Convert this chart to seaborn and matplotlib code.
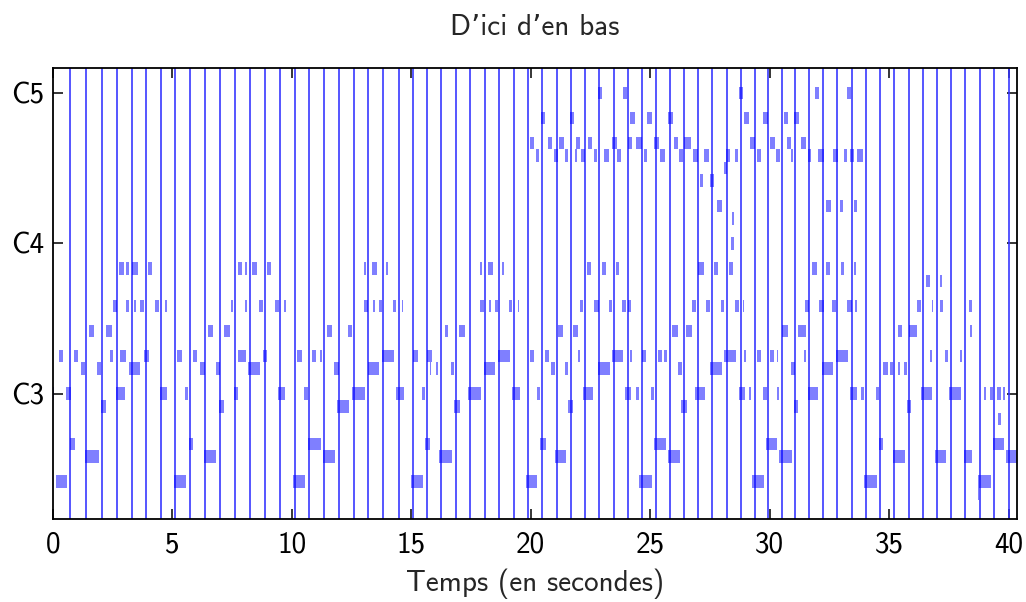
import matplotlib
matplotlib.use("Agg")
import matplotlib.pyplot as plt
import seaborn as sns
import numpy as np

# ---- data -----------------------------------------------------------------
title = "D\u2019ici d\u2019en bas"
xlabel = "Temps (en secondes)"
ytick_pitches = [48, 60, 72]
ytick_labels = ["C3", "C4", "C5"]
xticks = [0, 5, 10, 15, 20, 25, 30, 35, 40]

beat_times = [0.732, 1.401, 2.041, 2.685, 3.325, 3.911, 4.509, 5.123, 5.738, 6.366,
              6.993, 7.633, 8.248, 8.858, 9.486, 10.109, 10.728, 11.355, 11.970,
              12.597, 13.195, 13.823, 14.479, 15.048, 15.663, 16.249, 16.863,
              17.474, 18.089, 18.687, 19.289, 19.887, 20.473, 21.087, 21.673,
              22.271, 22.856, 23.471, 24.069, 24.655, 25.228, 25.813, 26.411,
              26.997, 27.583, 28.198, 28.796, 29.381, 29.946, 30.510, 31.067,
              31.639, 32.238, 32.823, 33.425, 34.023, 34.621, 35.207, 35.822,
              36.407, 36.993, 37.591, 38.177, 38.791, 39.406, 40.017]

# notes per MIDI pitch: (start, end) in seconds
notes_40 = [(38.708, 38.750)]
notes_41 = [(0.105, 0.606), (5.081, 5.583), (10.059, 10.561), (14.994, 15.496),
            (19.804, 20.263), (24.529, 25.073), (29.256, 29.758), (33.940, 34.484),
            (38.708, 39.251)]
notes_43 = [(1.359, 1.945), (6.336, 6.838), (11.313, 11.815), (16.165, 16.709),
            (21.016, 21.477), (25.743, 26.244), (30.385, 30.929), (35.153, 35.655),
            (36.909, 37.369), (38.122, 38.457), (39.879, 40.40)]
notes_44 = [(0.732, 0.941), (5.709, 5.876), (10.686, 11.230), (15.579, 15.789),
            (20.389, 20.640), (25.157, 25.659), (29.841, 30.301), (34.567, 34.734),
            (39.335, 39.795)]
notes_46 = [(39.544, 39.670)]
notes_47 = [(2.028, 2.238), (6.963, 7.173), (11.899, 12.401), (16.792, 17.043),
            (21.560, 21.769), (26.286, 26.537), (31.012, 31.180), (35.738, 35.905)]
notes_48 = [(0.0, 0.06), (0.565, 0.760), (2.656, 3.032), (4.496, 4.789), (5.542, 5.667),
            (7.591, 7.758), (9.431, 9.724), (10.519, 10.686), (12.526, 13.070),
            (14.366, 14.701), (15.454, 15.579), (17.378, 17.921), (19.218, 19.553),
            (20.263, 20.389), (22.187, 22.606), (23.944, 24.195), (24.404, 24.529),
            (25.031, 25.157), (26.872, 27.290), (28.712, 28.963), (29.130, 29.214),
            (29.716, 29.883), (30.301, 30.385), (31.598, 32.016), (33.354, 33.647),
            (33.814, 33.940), (34.442, 34.567), (36.324, 36.784), (37.495, 37.997),
            (38.959, 39.042), (39.210, 39.335), (39.502, 39.670), (39.753, 39.837)]
notes_50 = [(1.192, 1.359), (1.861, 2.028), (3.200, 3.660), (6.169, 6.364),
            (6.838, 7.005), (8.176, 8.678), (11.773, 11.982), (13.195, 13.655),
            (15.789, 15.830), (16.040, 16.123), (16.667, 16.792), (18.047, 18.507),
            (20.849, 21.016), (21.435, 21.560), (22.815, 23.317), (26.161, 26.328),
            (27.499, 28.001), (30.887, 31.054), (32.183, 32.643), (34.734, 34.944),
            (35.027, 35.153), (35.362, 35.446), (35.613, 35.738)]
notes_51 = [(0.272, 0.439), (0.899, 1.066), (2.405, 2.530), (2.823, 3.074),
            (3.827, 4.036), (5.207, 5.416), (5.876, 6.043), (7.758, 8.093),
            (8.804, 8.971), (10.226, 10.435), (10.853, 11.020), (11.188, 11.271),
            (13.781, 14.283), (15.077, 15.287), (15.663, 15.872), (18.632, 19.134),
            (19.971, 20.138), (20.598, 20.765), (21.978, 22.062), (23.400, 23.860),
            (24.153, 24.237), (24.655, 24.822), (25.324, 25.491), (25.575, 25.701),
            (28.085, 28.587), (28.921, 29.005), (29.465, 29.632), (30.008, 30.176),
            (30.301, 30.343), (31.431, 31.514), (32.769, 33.271), (36.700, 36.784),
            (37.327, 37.453), (37.955, 38.039)]
notes_53 = [(1.527, 1.736), (2.238, 2.488), (6.504, 6.713), (7.173, 7.424),
            (11.481, 11.690), (12.359, 12.526), (16.416, 16.541), (17.001, 17.252),
            (21.128, 21.351), (21.769, 21.978), (25.910, 26.161), (26.495, 26.746),
            (30.511, 30.761), (31.180, 31.514), (35.362, 35.529), (35.822, 36.156),
            (38.373, 38.457)]
notes_55 = [(2.530, 2.684), (3.074, 3.200), (3.409, 3.492), (3.660, 3.827),
            (4.287, 4.454), (4.705, 4.789), (7.465, 7.549), (8.051, 8.135),
            (8.636, 8.804), (9.306, 9.445), (9.668, 9.752), (13.028, 13.195),
            (13.405, 13.488), (13.655, 13.781), (14.241, 14.366), (14.617, 14.659),
            (17.880, 18.047), (18.256, 18.339), (18.507, 18.632), (19.092, 19.218),
            (19.469, 19.511), (22.062, 22.187), (22.648, 22.857), (23.275, 23.400),
            (23.819, 23.986), (24.069, 24.195), (26.746, 26.913), (27.332, 27.499),
            (27.959, 28.085), (28.545, 28.712), (28.879, 28.921), (31.472, 31.639),
            (32.058, 32.267), (32.601, 32.769), (33.229, 33.438), (33.563, 33.647),
            (36.156, 36.324), (36.784, 36.826), (37.118, 37.244), (38.331, 38.457)]
notes_57 = [(36.533, 36.700), (37.118, 37.202)]
notes_58 = [(2.781, 2.990), (3.074, 3.200), (3.311, 3.576), (3.994, 4.161),
            (7.730, 7.898), (8.051, 8.135), (8.344, 8.553), (8.971, 9.138),
            (13.028, 13.112), (13.363, 13.572), (13.948, 14.032), (17.880, 17.963),
            (18.214, 18.423), (18.800, 18.883), (22.355, 22.522), (22.982, 23.149),
            (23.568, 23.693), (26.997, 27.248), (27.666, 27.834), (28.294, 28.461),
            (31.765, 31.974), (32.350, 32.518), (32.978, 33.104), (33.522, 33.605)]
notes_60 = [(28.377, 28.503)]
notes_62 = [(28.419, 28.503)]
notes_63 = [(27.792, 28.001), (32.350, 32.560), (32.936, 33.062), (33.522, 33.647)]
notes_65 = [(27.081, 27.206), (27.499, 27.666)]
notes_66 = [(28.085, 28.210)]
notes_67 = [(20.222, 20.347), (20.975, 21.142), (21.435, 21.560), (21.853, 21.937),
            (22.104, 22.271), (22.648, 22.773), (23.066, 23.275), (23.609, 23.777),
            (24.739, 24.864), (25.408, 25.617), (26.203, 26.370), (26.788, 26.997),
            (27.248, 27.457), (28.168, 28.336), (28.545, 28.670), (29.465, 29.632),
            (30.260, 30.427), (30.887, 30.970), (31.598, 31.723), (32.016, 32.267),
            (32.643, 32.853), (33.104, 33.229), (33.354, 33.522), (33.647, 33.898)]
notes_68 = [(19.971, 20.138), (20.724, 20.891), (21.184, 21.393), (21.895, 22.062),
            (22.397, 22.564), (23.400, 23.609), (24.069, 24.237), (24.404, 24.655),
            (25.157, 25.366), (25.993, 26.161), (26.411, 26.704), (29.172, 29.381),
            (30.008, 30.218), (30.719, 30.887), (31.305, 31.514)]
notes_70 = [(20.431, 20.598), (21.644, 21.811), (24.153, 24.362), (24.864, 25.073),
            (25.743, 25.952), (28.921, 29.130), (29.716, 29.925), (30.594, 30.761),
            (31.012, 31.221)]
notes_72 = [(22.815, 22.982), (23.860, 24.028), (28.712, 28.879), (31.890, 32.058),
            (33.229, 33.396)]

notes_by_pitch = {40: notes_40, 41: notes_41, 43: notes_43, 44: notes_44, 46: notes_46,
                  47: notes_47, 48: notes_48, 50: notes_50, 51: notes_51, 53: notes_53,
                  55: notes_55, 57: notes_57, 58: notes_58, 60: notes_60, 62: notes_62,
                  63: notes_63, 65: notes_65, 66: notes_66, 67: notes_67, 68: notes_68,
                  70: notes_70, 72: notes_72}

# ---- build arrays ---------------------------------------------------------
pitches, starts, durs = [], [], []
for p, lst in notes_by_pitch.items():
    for s, e in lst:
        pitches.append(p)
        starts.append(s)
        durs.append(e - s)

# ---- plot -----------------------------------------------------------------
sns.set_theme(style="ticks")
plt.rcParams["font.family"] = ["cmss10", "DejaVu Sans"]
plt.rcParams["axes.unicode_minus"] = False

fig = plt.figure(figsize=(10.26, 6.02), dpi=100)
ax = fig.add_axes([53 / 1026, 1 - 519 / 602, (1017 - 53) / 1026, (519 - 68) / 602])

ax.vlines(beat_times, 38, 74, colors=(0.2, 0.2, 1.0), linewidth=1.3, alpha=0.9, zorder=1)
ax.barh(pitches, durs, left=starts, height=1.0, color=(0.0, 0.0, 1.0, 0.5),
        linewidth=0, zorder=2)

ax.set_xlim(0, 40.35)
ax.set_ylim(38, 74)
ax.set_xticks(xticks)
ax.set_xticklabels([str(t) for t in xticks])
ax.set_yticks(ytick_pitches)
ax.set_yticklabels(ytick_labels)
ax.tick_params(direction="in", top=True, right=True, length=7, width=1.1,
               labelsize=21, colors="black")
ax.tick_params(axis="x", pad=9)
ax.tick_params(axis="y", pad=6)
for sp in ax.spines.values():
    sp.set_linewidth(1.3)
    sp.set_color("black")
ax.set_xlabel(xlabel, fontsize=21, labelpad=7)
ax.set_title(title, fontsize=21, pad=24)

fig.savefig("out.png", dpi=100)
